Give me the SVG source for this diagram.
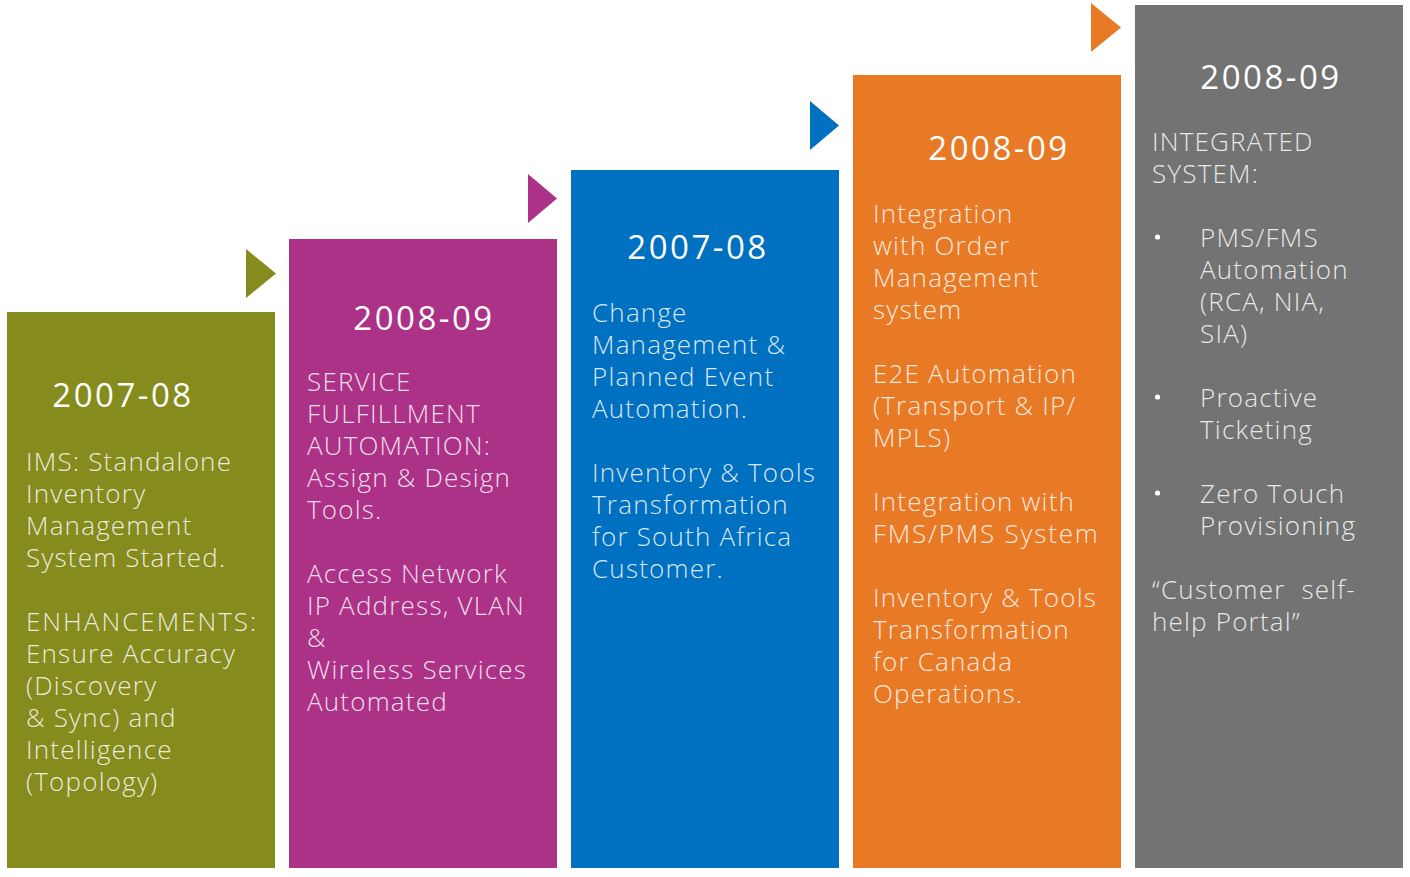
<svg xmlns="http://www.w3.org/2000/svg" width="1410" height="877" viewBox="0 0 1410 877">
  <style>
    .hd { font-family: "Open Sans", "Liberation Sans", sans-serif; font-size: 33px; letter-spacing: 2.5px; fill: #ffffff; text-anchor: middle; }
    .bd { font-family: "Open Sans", "Liberation Sans", sans-serif; font-weight: 300; font-size: 26px; letter-spacing: 1.2px; fill: #ffffff; fill-opacity: 0.85; }
    .green { fill: #868B1E; }
    .purple { fill: #AC3287; }
    .blue { fill: #0070C0; }
    .orange { fill: #E87A26; }
    .gray { fill: #737373; }
  </style>
  <rect width="1410" height="877" fill="#ffffff"/>

  <!-- step arrows -->
  <g id="connectors">
    <polygon class="green" points="246,249 276,273.5 246,298"/>
    <polygon class="purple" points="528,174 557,198.5 528,223"/>
    <polygon class="blue" points="810,101 839,125.5 810,150"/>
    <polygon class="orange" points="1091,3 1121,27.5 1091,52"/>
  </g>

  <g id="step-2007-08-ims">
    <rect class="green" x="7" y="312" width="268" height="556"/>
    <text class="hd" x="123" y="407">2007-08</text>
    <text class="bd">
      <tspan x="26" y="471">IMS: Standalone</tspan>
      <tspan x="26" y="503">Inventory</tspan>
      <tspan x="26" y="535">Management</tspan>
      <tspan x="26" y="567">System Started.</tspan>
      <tspan x="26" y="631" letter-spacing="2px">ENHANCEMENTS:</tspan>
      <tspan x="26" y="663">Ensure Accuracy</tspan>
      <tspan x="26" y="695">(Discovery</tspan>
      <tspan x="26" y="727">&amp; Sync) and</tspan>
      <tspan x="26" y="759">Intelligence</tspan>
      <tspan x="26" y="791">(Topology)</tspan>
    </text>
  </g>

  <g id="step-2008-09-fulfillment">
    <rect class="purple" x="289" y="239" width="268" height="629"/>
    <text class="hd" x="424" y="330">2008-09</text>
    <text class="bd">
      <tspan x="307" y="391">SERVICE</tspan>
      <tspan x="307" y="423">FULFILLMENT</tspan>
      <tspan x="307" y="455">AUTOMATION:</tspan>
      <tspan x="307" y="487">Assign &amp; Design</tspan>
      <tspan x="307" y="519">Tools.</tspan>
      <tspan x="307" y="583">Access Network</tspan>
      <tspan x="307" y="615">IP Address, VLAN</tspan>
      <tspan x="307" y="647">&amp;</tspan>
      <tspan x="307" y="679">Wireless Services</tspan>
      <tspan x="307" y="711">Automated</tspan>
    </text>
  </g>

  <g id="step-2007-08-change">
    <rect class="blue" x="571" y="170" width="268" height="698"/>
    <text class="hd" x="698" y="259">2007-08</text>
    <text class="bd">
      <tspan x="592" y="322">Change</tspan>
      <tspan x="592" y="354">Management &amp;</tspan>
      <tspan x="592" y="386">Planned Event</tspan>
      <tspan x="592" y="418">Automation.</tspan>
      <tspan x="592" y="482">Inventory &amp; Tools</tspan>
      <tspan x="592" y="514">Transformation</tspan>
      <tspan x="592" y="546">for South Africa</tspan>
      <tspan x="592" y="578">Customer.</tspan>
    </text>
  </g>

  <g id="step-2008-09-integration">
    <rect class="orange" x="853" y="75" width="268" height="793"/>
    <text class="hd" x="999" y="160">2008-09</text>
    <text class="bd">
      <tspan x="873" y="223">Integration</tspan>
      <tspan x="873" y="255">with Order</tspan>
      <tspan x="873" y="287">Management</tspan>
      <tspan x="873" y="319">system</tspan>
      <tspan x="873" y="383">E2E Automation</tspan>
      <tspan x="873" y="415">(Transport &amp; IP/</tspan>
      <tspan x="873" y="447">MPLS)</tspan>
      <tspan x="873" y="511">Integration with</tspan>
      <tspan x="873" y="543" letter-spacing="1.8px">FMS/PMS System</tspan>
      <tspan x="873" y="607">Inventory &amp; Tools</tspan>
      <tspan x="873" y="639">Transformation</tspan>
      <tspan x="873" y="671">for Canada</tspan>
      <tspan x="873" y="703">Operations.</tspan>
    </text>
  </g>

  <g id="step-2008-09-integrated">
    <rect class="gray" x="1135" y="5" width="268" height="863"/>
    <text class="hd" x="1271" y="89">2008-09</text>
    <text class="bd">
      <tspan x="1152" y="151">INTEGRATED</tspan>
      <tspan x="1152" y="183">SYSTEM:</tspan>
      <tspan x="1200" y="247">PMS/FMS</tspan>
      <tspan x="1200" y="279">Automation</tspan>
      <tspan x="1200" y="311">(RCA, NIA,</tspan>
      <tspan x="1200" y="343">SIA)</tspan>
      <tspan x="1200" y="407">Proactive</tspan>
      <tspan x="1200" y="439">Ticketing</tspan>
      <tspan x="1200" y="503">Zero Touch</tspan>
      <tspan x="1200" y="535">Provisioning</tspan>
      <tspan x="1152" y="599">“Customer&#160; self-</tspan>
      <tspan x="1152" y="631">help Portal”</tspan>
    </text>
    <circle cx="1157.5" cy="237" r="2.6" fill="#ffffff"/>
    <circle cx="1157.5" cy="397" r="2.6" fill="#ffffff"/>
    <circle cx="1157.5" cy="493" r="2.6" fill="#ffffff"/>
  </g>
</svg>
